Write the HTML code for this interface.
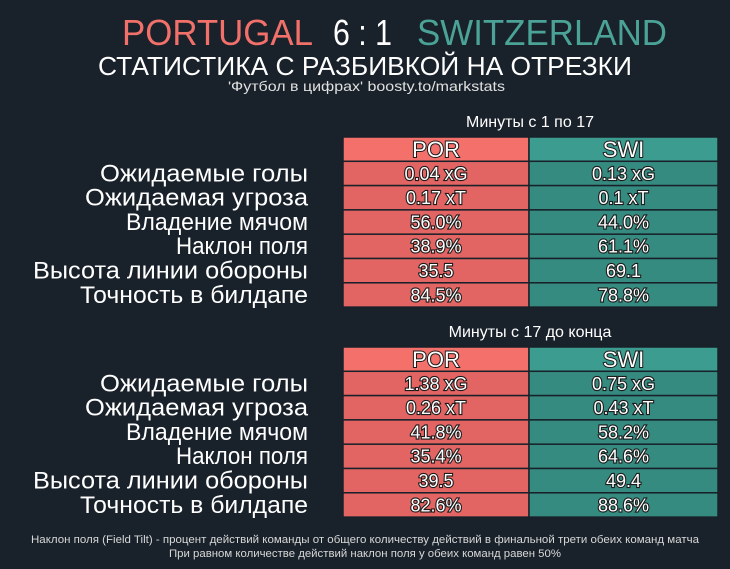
<!DOCTYPE html>
<html><head><meta charset="utf-8">
<style>
html,body{margin:0;padding:0;background:#19212a;}
svg{display:block;font-family:"Liberation Sans","DejaVu Sans",sans-serif;}
.cell{fill:#fff;stroke:#1b1b1b;stroke-width:2.2px;paint-order:stroke;font-size:18px;}
.hdr{fill:#fff;stroke:#1b1b1b;stroke-width:2px;paint-order:stroke;font-size:22px;}
.lab{fill:#fff;font-size:24px;}
</style></head>
<body>
<svg id="chart" width="730" height="569" viewBox="0 0 730 569">
<rect width="730" height="569" fill="#19212a"/>
<text x="122" y="45" font-size="36" fill="#f1706a" textLength="191" lengthAdjust="spacingAndGlyphs">PORTUGAL</text>
<text x="333" y="45" font-size="36" fill="#ffffff" textLength="59" lengthAdjust="spacingAndGlyphs">6 : 1</text>
<text x="417" y="45" font-size="36" fill="#4aa396" textLength="250" lengthAdjust="spacingAndGlyphs">SWITZERLAND</text>
<text x="98" y="75" font-size="26" fill="#ffffff" textLength="534" lengthAdjust="spacingAndGlyphs">СТАТИСТИКА С РАЗБИВКОЙ НА ОТРЕЗКИ</text>
<text x="228" y="91" font-size="14" fill="#e0e0e0" textLength="277" lengthAdjust="spacingAndGlyphs">'Футбол в цифрах' boosty.to/markstats</text>
<g id="tables"></g>
<text x="365" y="543" font-size="11" fill="#d8d8d8" text-anchor="middle" textLength="668" lengthAdjust="spacingAndGlyphs">Наклон поля (Field Tilt) - процент действий команды от общего количеству действий в финальной трети обеих команд матча</text>
<text x="365" y="557" font-size="11" fill="#d8d8d8" text-anchor="middle" textLength="392" lengthAdjust="spacingAndGlyphs">При равном количестве действий наклон поля у обеих команд равен 50%</text>
</svg>
<script>
const metrics = ["Ожидаемые голы","Ожидаемая угроза","Владение мячом","Наклон поля","Высота линии обороны","Точность в билдапе"];
const teams = ["POR","SWI"];
const periods = ["Минуты с 1 по 17","Минуты с 17 до конца"];
const por1 = ["0.04 xG","0.17 xT","56.0%","38.9%","35.5","84.5%"];
const swi1 = ["0.13 xG","0.1 xT","44.0%","61.1%","69.1","78.8%"];
const por2 = ["1.38 xG","0.26 xT","41.8%","35.4%","39.5","82.6%"];
const swi2 = ["0.75 xG","0.43 xT","58.2%","64.6%","49.4","88.6%"];
const labWidths = [208,223,182,132,275,228];

const NS="http://www.w3.org/2000/svg";
const g=document.getElementById('tables');
function mk(tag,attrs,text){const e=document.createElementNS(NS,tag);for(const k in attrs)e.setAttribute(k,attrs[k]);if(text!==undefined)e.textContent=text;g.appendChild(e);return e;}
const tableTops=[137,347];
const rowH=24.3, x0=343, xm=529, x1=718;
const hdrFill=["#f4706b","#3d9c90"], bodyFill=["#e36563","#368b80"];
const data=[[por1,swi1],[por2,swi2]];
tableTops.forEach((top,t)=>{
  const title=mk('text',{x:530,y:top-10,'font-size':16,fill:'#fff','text-anchor':'middle'},periods[t]);
  
  
  teams.forEach((tm,c)=>{
    const cx=c?xm:x0, w=c?(x1-xm):(xm-x0);
    const r=mk('rect',{x:cx,y:top,width:w,height:rowH,fill:hdrFill[c],stroke:'#19212a','stroke-width':1.5});
    
    
    const tx=mk('text',{x:cx+w/2,y:top+20,'text-anchor':'middle',class:'hdr'},tm);
    
    
  });
  metrics.forEach((m,i)=>{
    const y=top+rowH*(i+1);
    const lb=mk('text',{x:308,y:y+20,'text-anchor':'end',class:'lab',textLength:labWidths[i],lengthAdjust:'spacingAndGlyphs'},m);
    
    
    data[t].forEach((arr,c)=>{
      const cx=c?xm:x0, w=c?(x1-xm):(xm-x0);
      const r=mk('rect',{x:cx,y:y,width:w,height:rowH,fill:bodyFill[c],stroke:'#19212a','stroke-width':1.5});
      
      
      const tx=mk('text',{x:cx+w/2,y:y+18.5,'text-anchor':'middle',class:'cell'},arr[i]);
      
      
    });
  });
});
</script>
</body></html>
